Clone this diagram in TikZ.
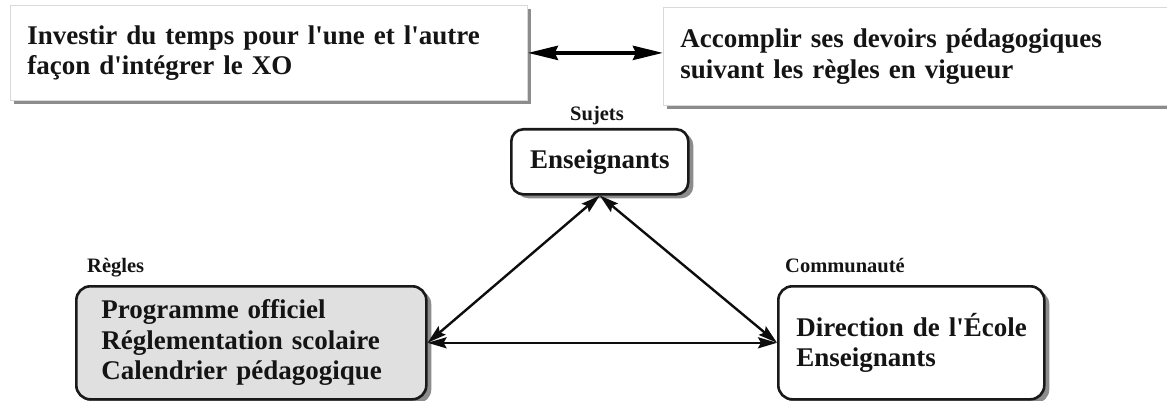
\documentclass[tikz,border=0pt]{standalone}
\usepackage{fontspec}
% plain font mapping so that ' stays a straight apostrophe
\setmainfont{Liberation Serif}[Ligatures=TeXOff]
\usetikzlibrary{arrows.meta,shadows}
\begin{document}
\begin{tikzpicture}[x=1pt,y=-1pt,
  big/.style={font=\fontsize{27}{30.5}\selectfont\bfseries, text=black!92},
  lbl/.style={font=\fontsize{20.5}{24}\selectfont\bfseries, text=black!92, inner sep=0pt},
  topbox/.style={big, rectangle, draw=black!15, line width=0.8pt, fill=white,
    anchor=north west, align=left, inner ysep=0pt,
    drop shadow={shadow xshift=4pt, shadow yshift=-4pt, fill=black!45, opacity=1}},
  roundbox/.style={big, rectangle, draw=black!90, line width=2.6pt, rounded corners=14pt,
    fill=white, anchor=north west, align=left, inner ysep=0pt,
    drop shadow={shadow xshift=5pt, shadow yshift=-4pt, fill=black!45, opacity=1}},
  toparrow/.style={line width=4pt, draw=black,
    {Stealth[length=30pt,width=14pt,inset=3pt]}-{Stealth[length=30pt,width=14pt,inset=3pt]}},
  tri/.style={line width=2.4pt, draw=black!95,
    {Stealth[length=19pt,width=11pt,inset=3pt]}-{Stealth[length=19pt,width=11pt,inset=3pt]}}
]
\useasboundingbox (0,0) rectangle (1167,401);

% the two ways of spending the teachers' time
\node[topbox, minimum width=517pt, minimum height=95pt, text width=483pt, inner xsep=17pt]
  (tl) at (10,5) {Investir du temps pour l'une et l'autre\\façon d'intégrer le XO};
\node[topbox, minimum width=520pt, minimum height=98pt, text width=486pt, inner xsep=17pt]
  (tr) at (663,7) {Accomplir ses devoirs pédagogiques\\suivant les règles en vigueur};
\draw[toparrow] (tl.east) -- (tl.east -| tr.west);

% subjects
\node[lbl, anchor=base] (lsuj) at (597,121) {Sujets};
\node[roundbox, rounded corners=12pt, minimum width=177pt, minimum height=65pt,
  align=center, inner xsep=6pt] (ens) at (510,128) {Enseignants};

% rules
\node[lbl, anchor=base west] (lreg) at (87,272) {Règles};
\node[roundbox, fill=black!12, minimum width=350pt, minimum height=113pt,
  text width=300pt, inner xsep=25pt] (reg) at (75,285)
  {Programme officiel\\Réglementation scolaire\\Calendrier pédagogique};

% community
\node[lbl, anchor=base west] (lcom) at (785,272) {Communauté};
\node[roundbox, minimum width=266pt, minimum height=113pt,
  text width=230pt, inner xsep=18pt] (com) at (777,285)
  {\mbox{Direction de l'École}\\Enseignants};

% mediations between the three poles
\draw[tri] (ens.south) -- (reg.east);
\draw[tri] (ens.south) -- (com.west);
\draw[tri] (reg.east) -- (com.west);
\end{tikzpicture}
\end{document}
